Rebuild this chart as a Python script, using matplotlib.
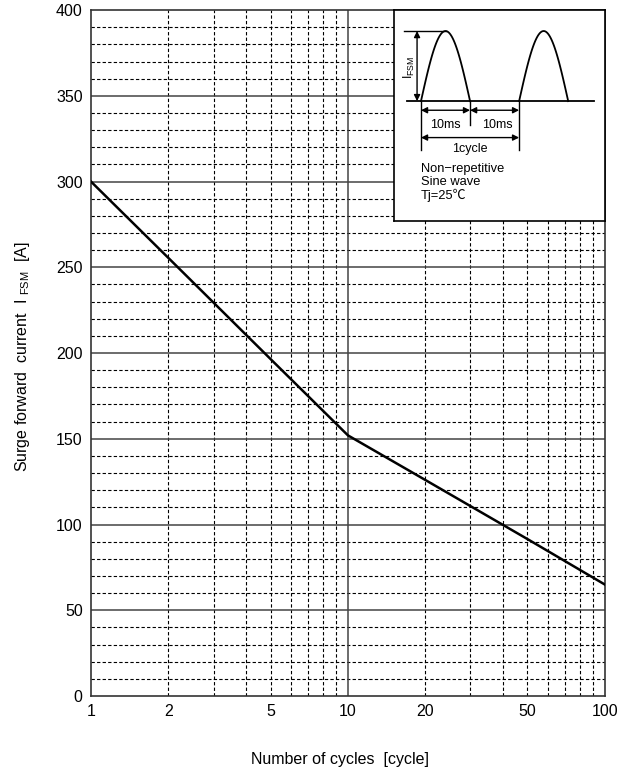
import numpy as np
import matplotlib.pyplot as plt
from matplotlib.ticker import FixedLocator, NullFormatter

plt.rcParams['font.family'] = ['Liberation Sans', 'DejaVu Sans']

# data
cycles = [1, 2, 5, 10, 20, 50, 100]
i_fsm = [300, 255.5, 196.5, 152, 126, 91.5, 65]

x_ticks = [1, 2, 5, 10, 20, 50, 100]
x_ticklabels = ["1", "2", "5", "10", "20", "50", "100"]
y_ticks = [0, 50, 100, 150, 200, 250, 300, 350, 400]

fig = plt.figure(figsize=(6.34, 7.76), dpi=100)
ax = fig.add_axes([0.1435, 0.1031, 0.8105, 0.8839])

ax.set_xscale("log")
ax.set_xlim(1, 100)
ax.set_ylim(0, 400)

# grid: dashed minor lines, solid major lines
x_minor = [k * d for d in (1, 10) for k in range(2, 10)]
y_minor = [v for v in range(10, 400, 10) if v % 50 != 0]
for xv in x_minor:
  ax.axvline(xv, color="black", lw=0.8, ls=(0, (3, 2)), zorder=1)
for yv in y_minor:
  ax.axhline(yv, color="black", lw=0.8, ls=(0, (3, 2)), zorder=1)
for yv in y_ticks[1:-1]:
  ax.axhline(yv, color="#444444", lw=1.1, zorder=1)
ax.axvline(10, color="#444444", lw=1.1, zorder=1)

ax.plot(cycles, i_fsm, color="black", lw=1.8, zorder=3)

ax.xaxis.set_major_locator(FixedLocator(x_ticks))
ax.set_xticklabels(x_ticklabels)
ax.xaxis.set_minor_formatter(NullFormatter())
ax.set_yticks(y_ticks)
ax.tick_params(which="both", length=0, labelsize=11.5, pad=6)
for sp in ax.spines.values():
  sp.set_color("#333333")
  sp.set_linewidth(1.2)

fig.text(0.035, 0.54, "Surge forward  current  I $_{\\mathregular{FSM}}$  [A]",
         rotation=90, ha="center", va="center", fontsize=11.5)
fig.text(0.537, 0.021, "Number of cycles  [cycle]", ha="center", va="center", fontsize=11.5)

# inset with the waveform sketch
ins = fig.add_axes([394/634, 1-221/776, 211/634, 211/776])
ins.set_xlim(-5.5, 37.5)
ins.set_ylim(-1.71, 1.3)
ins.set_xticks([])
ins.set_yticks([])
for sp in ins.spines.values():
  sp.set_color("black")
  sp.set_linewidth(1.2)
ins.set_zorder(5)

t = np.linspace(0, 10, 100)
ins.plot(t, np.sin(np.pi * t / 10), color="black", lw=1.3)
ins.plot(t + 20, np.sin(np.pi * t / 10), color="black", lw=1.3)
ins.plot([-2.8, 35.2], [0, 0], color="black", lw=1.3)
ins.plot([-3.5, 5], [1, 1], color="black", lw=1.0)

for xv, y0 in [(0, -0.7), (10, -0.34), (20, -0.7)]:
  ins.plot([xv, xv], [0, y0], color="black", lw=1.0)

arw = dict(arrowstyle="<|-|>", color="black", lw=1.0, mutation_scale=9, shrinkA=0, shrinkB=0)
ins.annotate("", xy=(-0.8, 1), xytext=(-0.8, 0), arrowprops=arw)
ins.annotate("", xy=(0, -0.13), xytext=(10, -0.13), arrowprops=arw)
ins.annotate("", xy=(10, -0.13), xytext=(20, -0.13), arrowprops=arw)
ins.annotate("", xy=(0, -0.52), xytext=(20, -0.52), arrowprops=arw)

ins.text(-2.3, 0.48, "I$_{\\mathregular{FSM}}$", rotation=90, ha="center", va="center", fontsize=9)
ins.text(5, -0.34, "10ms", ha="center", va="center", fontsize=9)
ins.text(15.5, -0.34, "10ms", ha="center", va="center", fontsize=9)
ins.text(10, -0.68, "1cycle", ha="center", va="center", fontsize=9)
ins.text(0, -1.16, "Non\u2212repetitive\nSine wave\nTj=25\u2103", ha="left", va="center",
         fontsize=9.3, linespacing=1.05, family=['Liberation Sans', 'Noto Sans CJK JP', 'DejaVu Sans'])

fig.savefig("out.png", dpi=100)
